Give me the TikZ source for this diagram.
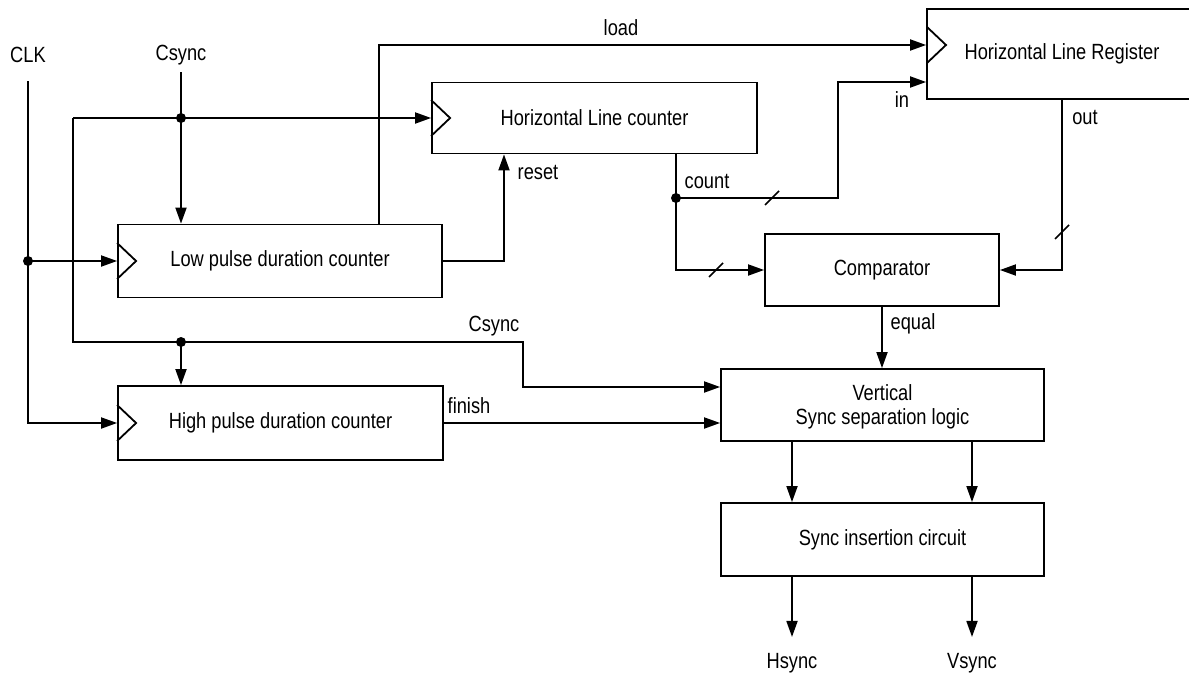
\documentclass[tikz,border=0pt]{standalone}
\usepackage{fontspec}
\setmainfont{Liberation Sans}[FakeStretch=0.83]
\usetikzlibrary{arrows.meta,calc}
\begin{document}
\begin{tikzpicture}[x=1pt,y=-1pt,
  every node/.style={font=\fontsize{22}{24}\selectfont, inner sep=0pt},
  blk/.style={draw, line width=1.8pt, anchor=center, align=center},
  wire/.style={line width=1.8pt},
  arr/.style={wire, -{Triangle[length=16pt,width=11pt]}},
  jdot/.style={circle, fill, minimum size=10pt, inner sep=0pt}
]
\useasboundingbox (0,0) rectangle (1189,675);
% blocks
\node[blk, minimum width=324pt, minimum height=73pt] (low) at (280,261) {Low pulse duration counter};
\node[blk, minimum width=325pt, minimum height=74pt] (high) at (280.5,423) {High pulse duration counter};
\node[blk, minimum width=325pt, minimum height=71pt] (hlc) at (594.5,118) {Horizontal Line counter};
\node[blk, minimum width=270pt, minimum height=90pt] (hlr) at (1062,54) {Horizontal Line Register};
\node[blk, minimum width=234pt, minimum height=72pt] (cmp) at (882,270) {Comparator};
\node[blk, minimum width=323pt, minimum height=72pt, text depth=0pt] (vss) at (882.5,405) {Vertical\\[0pt]Sync separation logic};
\node[blk, minimum width=323pt, minimum height=73pt] (sic) at (882.5,539.5) {Sync insertion circuit};
% labels
\node (lclk) at (28,55) {CLK};
\node (lcs) at (181,55) {Csync};
\node (lload) at (621,28) {load};
\node (lreset) at (538,172) {reset};
\node (lcount) at (707,181) {count};
\node (lin) at (902,100) {in};
\node (lout) at (1085,117) {out};
\node (lequal) at (913,324) {equal};
\node (lcs2) at (494,326) {Csync};
\node (lfinish) at (469,406) {finish};
\node (hs) at (792,663) {Hsync};
\node (vs) at (972,663) {Vsync};
% clock triangles
\foreach \p in {(low.west),(high.west),(hlc.west),(927,45)}
  \draw[wire] \p ++(0,-18) -- ++(19,18) -- ++(-19,18);
% CLK
\coordinate (clkTop) at (28,81);
\coordinate (jClk) at (clkTop |- low.west);
\draw[arr] (clkTop) |- (high.west);
\draw[arr] (jClk) -- (low.west);
\node[jdot] (dClk) at (jClk) {};
% Csync
\coordinate (csTop) at (181,72);
\coordinate (csJ) at (csTop |- hlc.west);
\coordinate (lft) at (73,118);
\coordinate (csJ2) at (181,342);
\coordinate (csTurn) at (523,342);
\path (vss.west) ++(0,-18) coordinate (vIn1);
\draw[arr] (csTop) -- (csTop |- low.north);
\draw[arr] (lft) -- (hlc.west);
\draw[arr] (lft) |- (csTurn) |- (vIn1);
\draw[arr] (csJ2) -- (csJ2 |- high.north);
\node[jdot] (dCs) at (csJ) {};
\node[jdot] (dCs2) at (csJ2) {};
% load
\coordinate (ldTop) at (379,45);
\draw[arr] (ldTop |- low.north) -- (ldTop) -- (hlr.west |- ldTop);
% reset
\coordinate (rsX) at (504,0);
\draw[arr] (low.east) -| (rsX |- hlc.south);
% count
\coordinate (cntJ) at (676,198);
\coordinate (inX) at (838,82);
\draw[wire] (cntJ |- hlc.south) -- (cntJ);
\draw[arr] (cntJ) |- (cmp.west);
\draw[arr] (cntJ) -| (inX) -- (hlr.west |- inX);
\node[jdot] (dCnt) at (cntJ) {};
% out
\draw[arr] (hlr.south) |- (cmp.east);
% equal
\draw[arr] (cmp.south) -- (cmp.south |- vss.north);
% finish
\draw[arr] (high.east) -- (vss.west |- high.east);
% vss -> sic
\coordinate (cA) at (792,0);
\coordinate (cB) at (972,0);
\draw[arr] (cA |- vss.south) -- (cA |- sic.north);
\draw[arr] (cB |- vss.south) -- (cB |- sic.north);
\draw[arr] (cA |- sic.south) -- ([yshift=16pt]hs.north);
\draw[arr] (cB |- sic.south) -- ([yshift=16pt]vs.north);
% bus slashes
\foreach \p in {(772,198),(716,270),(1062,232)}
  \draw[line width=1.5pt] \p ++(-7,7) -- ++(14,-14);
\end{tikzpicture}
\end{document}
